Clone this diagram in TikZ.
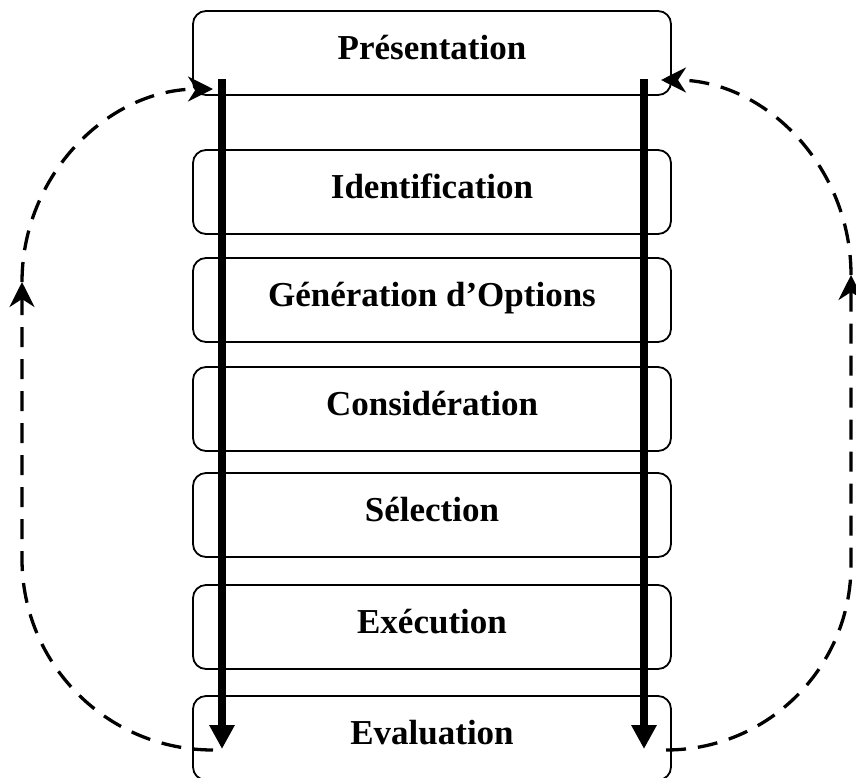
\documentclass[tikz,border=0pt]{standalone}
\usepackage{fontspec}
\setmainfont{Liberation Serif}
\usetikzlibrary{arrows.meta}
\begin{document}
\begin{tikzpicture}[x=1pt,y=-1pt,
  stepbox/.style={draw, line width=1.8pt, rounded corners=13pt, minimum width=478pt,
    minimum height=84pt, inner sep=0pt, text height=24pt, text depth=12pt,
    font=\fontsize{35}{40}\selectfont\bfseries},
  thick arrow/.style={line width=7.5pt, -{Triangle[length=24pt,width=24pt]}},
  loop/.style={line width=3.3pt, dash pattern=on 20pt off 12pt},
  loophead/.style={-{Stealth[length=25pt,width=25pt,inset=8pt]}}]
\useasboundingbox (0,0) rectangle (856,777);
\node[stepbox] (pres) at (432,53) {Présentation};
\node[stepbox] (iden) at (432,192) {Identification};
\node[stepbox] (gen)  at (432,300) {Génération d’Options};
\node[stepbox] (cons) at (432,409) {Considération};
\node[stepbox] (sel)  at (432,515) {Sélection};
\node[stepbox] (exe)  at (432,627) {Exécution};
\node[stepbox] (eval) at (432,738) {Evaluation};
% thick arrows
\coordinate (lt) at (222,79);
\coordinate (lb) at (222,749);
\coordinate (rt) at (644,79);
\coordinate (rb) at (644,749);
\draw[thick arrow] (lt) -- (lb);
\draw[thick arrow] (rt) -- (rb);
% left loop
\coordinate (ls) at (213,750);
\coordinate (lm) at (22,282);
\coordinate (le) at (213,89);
\draw[loop, loophead] (ls) arc[start angle=270, end angle=180, radius=191pt] -- (lm);
\draw[loop, loophead] (lm) arc[start angle=180, end angle=90, x radius=191pt, y radius=193pt];
% right loop
\coordinate (rs) at (666,750);
\coordinate (rm) at (851,275);
\coordinate (re) at (661,80);
\draw[loop, loophead] (rs) arc[start angle=270, end angle=360, radius=185pt] -- (rm);
\draw[loop, loophead] (rm) arc[start angle=0, end angle=90, x radius=190pt, y radius=195pt];
\end{tikzpicture}
\end{document}
